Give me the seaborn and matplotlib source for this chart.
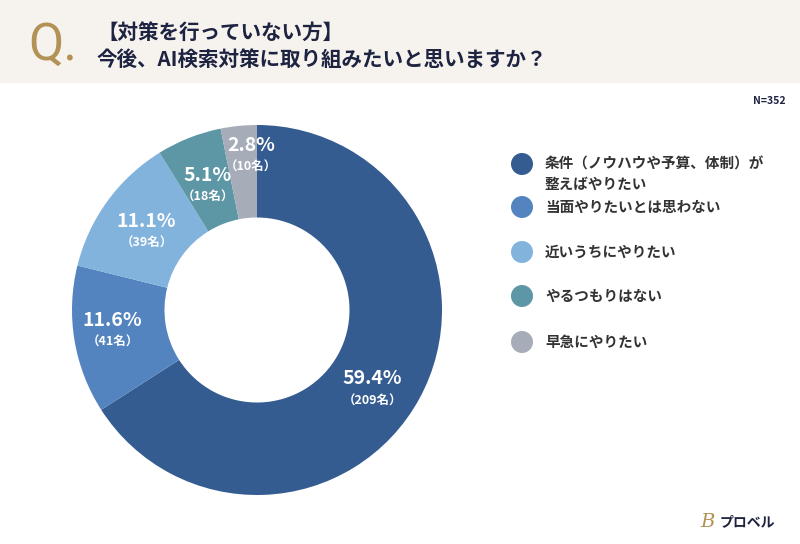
import matplotlib
matplotlib.use("Agg")
import matplotlib.pyplot as plt
from matplotlib.patches import Rectangle, Ellipse
import numpy as np
import seaborn as sns

# ---- data ----
categories = ["条件（ノウハウや予算、体制）が\n整えばやりたい", "当面やりたいとは思わない",
              "近いうちにやりたい", "やるつもりはない", "早急にやりたい"]
percents = [59.4, 11.6, 11.1, 5.1, 2.8]
counts = [209, 41, 39, 18, 10]
n_total = 352
title_line1 = "【対策を行っていない方】"
title_line2 = "今後、AI検索対策に取り組みたいと思いますか？"

# ---- style ----
colors = ["#345c91", "#5384c0", "#82b3dc", "#5d96a4", "#a6acb8"]
label_r = [0.76, 0.79, 0.73, 0.72, 0.83]
label_dtheta = [-6, -1, 1, 0, -3.5]
navy = "#1d2340"
gold = "#b39256"

sns.set_theme(style="white")
plt.rcParams['font.family'] = ['Noto Sans CJK JP', 'DejaVu Sans']

W, H = 800, 544
fig = plt.figure(figsize=(W / 100, H / 100), dpi=100)
fig.patch.set_facecolor("white")

# header band
fig.patches.append(Rectangle((0, 1 - 83 / H), 1, 83 / H, transform=fig.transFigure,
                             facecolor="#f6f3ee", edgecolor="none", zorder=0))
fig.text(28 / W, 1 - 60 / H, "Q.", fontsize=37, color=gold, family=['Roboto', 'DejaVu Sans'],
         va="baseline", ha="left")
fig.text(97 / W, 1 - 32 / H, title_line1, fontsize=14.8, fontweight="bold", color=navy,
         va="center", ha="left")
fig.text(97 / W, 1 - 59 / H, title_line2, fontsize=14.8, fontweight="bold", color=navy,
         va="center", ha="left")

fig.text(785 / W, 1 - 101 / H, f"N={n_total}", fontsize=7.5, fontweight="bold", color=navy,
         va="center", ha="right")

# donut
cx, cy, R = 257, 310, 185
ax = fig.add_axes([(cx - R) / W, (H - cy - R) / H, 2 * R / W, 2 * R / H])
wedges, _ = ax.pie(counts, colors=colors, startangle=90, counterclock=False, radius=1,
                   wedgeprops=dict(width=0.5, linewidth=0))
ax.set_xlim(-1, 1)
ax.set_ylim(-1, 1)
ax.set_aspect("auto")
ax.axis("off")

for w, p, c, r, dt in zip(wedges, percents, counts, label_r, label_dtheta):
    th = np.deg2rad((w.theta1 + w.theta2) / 2 + dt)
    x, y = r * np.cos(th), r * np.sin(th)
    ax.annotate(f"{p:.1f}%", (x, y), xytext=(0, 8), textcoords="offset points",
                ha="center", va="center", color="white", fontsize=14, fontweight="bold")
    ax.annotate(f"（{c}名）", (x, y), xytext=(0, -8), textcoords="offset points",
                ha="center", va="center", color="white", fontsize=9, fontweight="bold")

# legend
leg_y = [164, 207, 252, 296, 342]
for col, lab, ly in zip(colors, categories, leg_y):
    fig.patches.append(Ellipse((522 / W, 1 - ly / H), 22 / W, 22 / H, transform=fig.transFigure,
                               facecolor=col, edgecolor="none"))
    lines = lab.split("\n")
    for i, t in enumerate(lines):
        fig.text(545 / W, 1 - (ly + 20 * i) / H, t, fontsize=10.5, fontweight="bold",
                 color="#333333", va="center", ha="left")

# logo
fig.text(700 / W, 1 - 522 / H, "B", fontsize=14, color=gold, style="italic",
         family=['DejaVu Serif'], va="center", ha="left")
fig.text(720 / W, 1 - 522 / H, "プロベル", fontsize=10, fontweight="bold", color=navy,
         va="center", ha="left")

fig.savefig("out.png", dpi=100)
